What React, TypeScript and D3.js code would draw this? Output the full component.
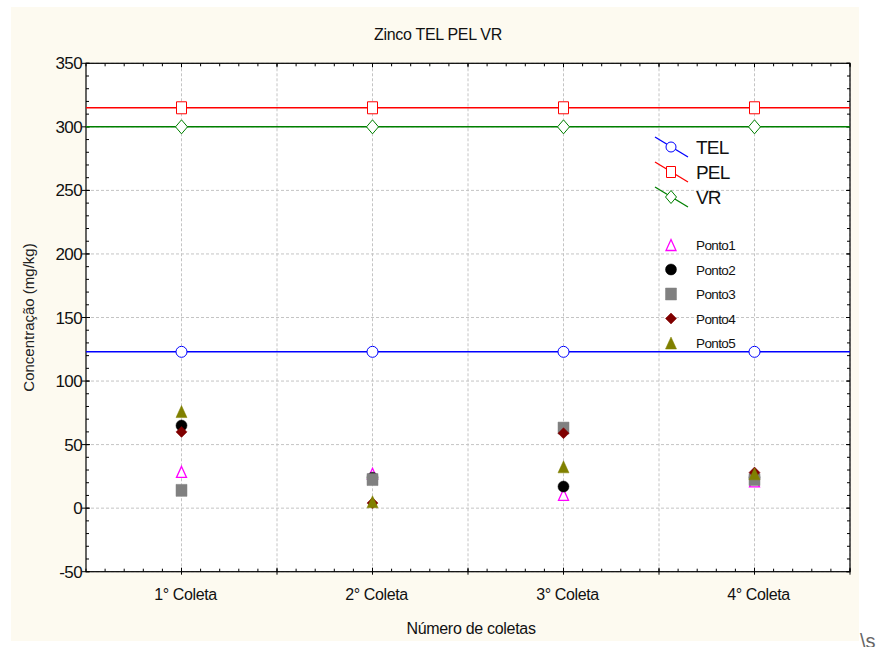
import React from "react";
import * as d3 from "d3";

const categories = ["1° Coleta", "2° Coleta", "3° Coleta", "4° Coleta"];
const yTicks = [-50, 0, 50, 100, 150, 200, 250, 300, 350];
const telValues = [123, 123, 123, 123];
const pelValues = [315, 315, 315, 315];
const vrValues = [300, 300, 300, 300];
const ponto1 = [28.5, 27, 10.5, 21];
const ponto2 = [65, 24, 17, 24];
const ponto3 = [14, 22.5, 63, 22.5];
const ponto4 = [60, 4, 59, 28];
const ponto5 = [76, 5, 32.5, 27];

const W = 878;
const H = 647;
const L = 86, R = 850, T = 63.3, B = 571.7;

const x = d3.scaleLinear().domain([0.5, 4.5]).range([L, R]);
const y = d3.scaleLinear().domain([-50, 350]).range([B, T]);

const font = "'Liberation Sans', Arial, sans-serif";

type Shape = "tri" | "circle" | "square" | "diamond";

function shapePath(s: Shape, cx: number, cy: number, w: number, h: number): string {
  const p = d3.path();
  if (s === "tri") {
    p.moveTo(cx, cy - h / 2);
    p.lineTo(cx + w / 2, cy + h / 2);
    p.lineTo(cx - w / 2, cy + h / 2);
    p.closePath();
  } else if (s === "square") {
    p.rect(cx - w / 2, cy - h / 2, w, h);
  } else if (s === "diamond") {
    p.moveTo(cx, cy - h / 2);
    p.lineTo(cx + w / 2, cy);
    p.lineTo(cx, cy + h / 2);
    p.lineTo(cx - w / 2, cy);
    p.closePath();
  } else {
    p.ellipse ? null : null;
    p.moveTo(cx + w / 2, cy);
    p.arc(cx, cy, w / 2, 0, Math.PI * 2);
    p.closePath();
  }
  return p.toString();
}

const refLines = [
  { name: "TEL", values: telValues, color: "#0000ff", shape: "circle" as Shape, w: 11, h: 11 },
  { name: "PEL", values: pelValues, color: "#ff0000", shape: "square" as Shape, w: 10, h: 12 },
  { name: "VR", values: vrValues, color: "#008000", shape: "diamond" as Shape, w: 12, h: 14 },
];

const pontos = [
  { name: "Ponto1", values: ponto1, color: "#ff00ff", shape: "tri" as Shape, filled: false, w: 10, h: 11 },
  { name: "Ponto2", values: ponto2, color: "#000000", shape: "circle" as Shape, filled: true, w: 11, h: 11 },
  { name: "Ponto3", values: ponto3, color: "#808080", shape: "square" as Shape, filled: true, w: 11, h: 12 },
  { name: "Ponto4", values: ponto4, color: "#800000", shape: "diamond" as Shape, filled: true, w: 11, h: 11 },
  { name: "Ponto5", values: ponto5, color: "#808000", shape: "tri" as Shape, filled: true, w: 11, h: 12 },
];

export default function App() {
  const minorY = d3.range(-50, 351, 10);
  const minorX = d3.range(0.5, 4.5001, 0.1);
  const gridX = d3.range(1, 4.5001, 0.5);

  return (
    <svg
      width={W}
      height={H}
      style={{ position: "absolute", left: 0, top: 0, background: "#ffffff" }}
      fontFamily={font}
    >
      <rect x={11} y={7} width={848} height={634} fill="#fdfaf0" />
      <rect x={L} y={T} width={R - L} height={B - T} fill="#ffffff" />

      {/* grid */}
      {yTicks.map((t) => (
        <line key={"gy" + t} x1={L} x2={R} y1={y(t)} y2={y(t)} stroke="#c4c4c4" strokeWidth={1} strokeDasharray="3,2" />
      ))}
      {gridX.map((t) => (
        <line key={"gx" + t} x1={x(t)} x2={x(t)} y1={T} y2={B} stroke="#c4c4c4" strokeWidth={1} strokeDasharray="3,2" />
      ))}

      {/* frame and ticks */}
      <rect x={L} y={T} width={R - L} height={B - T} fill="none" stroke="#000" strokeWidth={1.2} />
      {minorY.map((t) => (
        <g key={"my" + t}>
          <line x1={L} x2={L + 3} y1={y(t)} y2={y(t)} stroke="#000" />
          <line x1={R} x2={R - 3} y1={y(t)} y2={y(t)} stroke="#000" />
        </g>
      ))}
      {yTicks.map((t) => (
        <g key={"My" + t}>
          <line x1={L - 4} x2={L + 4} y1={y(t)} y2={y(t)} stroke="#000" />
          <line x1={R} x2={R - 4} y1={y(t)} y2={y(t)} stroke="#000" />
        </g>
      ))}
      {minorX.map((t, i) => (
        <g key={"mx" + i}>
          <line x1={x(t)} x2={x(t)} y1={B} y2={B - 3} stroke="#000" />
          <line x1={x(t)} x2={x(t)} y1={T} y2={T + 3} stroke="#000" />
        </g>
      ))}
      {gridX.map((t) => (
        <g key={"Mx" + t}>
          <line x1={x(t)} x2={x(t)} y1={B + 3} y2={B - 4} stroke="#000" />
          <line x1={x(t)} x2={x(t)} y1={T} y2={T + 4} stroke="#000" />
        </g>
      ))}

      {/* tick labels */}
      {yTicks.map((t) => (
        <text key={"ly" + t} x={L - 4} y={y(t) + 6} textAnchor="end" fontSize={17} letterSpacing={-0.6} fill="#111">
          {t}
        </text>
      ))}
      {categories.map((c, i) => (
        <text key={c} x={x(i + 1) + 4} y={600} textAnchor="middle" fontSize={16} letterSpacing={-0.4} fill="#111">
          {c}
        </text>
      ))}

      {/* titles */}
      <text x={438} y={40} textAnchor="middle" fontSize={16} letterSpacing={-0.3} fill="#111">
        Zinco TEL PEL VR
      </text>
      <text x={471} y={634} textAnchor="middle" fontSize={16} letterSpacing={-0.3} fill="#111">
        Número de coletas
      </text>
      <text
        transform={`translate(34, ${(T + B) / 2}) rotate(-90)`}
        textAnchor="middle"
        fontSize={15}
        fill="#222"
      >
        Concentração (mg/kg)
      </text>
      <text x={860} y={648} fontSize={20} fill="#666">
        \s
      </text>

      {/* reference lines */}
      {refLines.map((r) => (
        <g key={r.name}>
          <path
            d={d3.line<number>().x((_, i) => x(i + 1)).y((v) => y(v))([r.values[0], ...r.values, r.values[3]].map((v) => v)) || ""}
            stroke="none"
          />
          <line x1={L} x2={R} y1={y(r.values[0])} y2={y(r.values[3])} stroke={r.color} strokeWidth={1.5} />
          {r.values.map((v, i) => (
            <path
              key={i}
              d={shapePath(r.shape, x(i + 1), y(v), r.w, r.h)}
              fill="#ffffff"
              stroke={r.color}
              strokeWidth={1}
            />
          ))}
        </g>
      ))}

      {/* points */}
      {pontos.map((p) => (
        <g key={p.name}>
          {p.values.map((v, i) => (
            <path
              key={i}
              d={shapePath(p.shape, x(i + 1), y(v), p.w, p.h)}
              fill={p.filled ? p.color : "#ffffff"}
              stroke={p.color}
              strokeWidth={p.filled ? 0.5 : 1.3}
            />
          ))}
        </g>
      ))}

      {/* legend: reference lines */}
      {refLines.map((r, i) => {
        const cy = 147 + i * 25;
        return (
          <g key={"leg" + r.name}>
            <line x1={655} y1={cy - 10} x2={688} y2={cy + 10} stroke={r.color} strokeWidth={1.3} />
            <path d={shapePath(r.shape, 671, cy, r.w - 1, r.h - 1)} fill="#ffffff" stroke={r.color} strokeWidth={1} />
            <text x={696} y={cy + 7} fontSize={19} letterSpacing={-0.8} fill="#111">
              {r.name}
            </text>
          </g>
        );
      })}

      {/* legend: points */}
      {pontos.map((p, i) => {
        const cy = 245 + i * 24.5;
        return (
          <g key={"legp" + p.name}>
            <path
              d={shapePath(p.shape, 671, cy, p.w, p.h)}
              fill={p.filled ? p.color : "none"}
              stroke={p.color}
              strokeWidth={p.filled ? 0.5 : 1.3}
            />
            <text x={696} y={cy + 5} fontSize={13.5} letterSpacing={-0.6} fill="#111">
              {p.name}
            </text>
          </g>
        );
      })}
    </svg>
  );
}
